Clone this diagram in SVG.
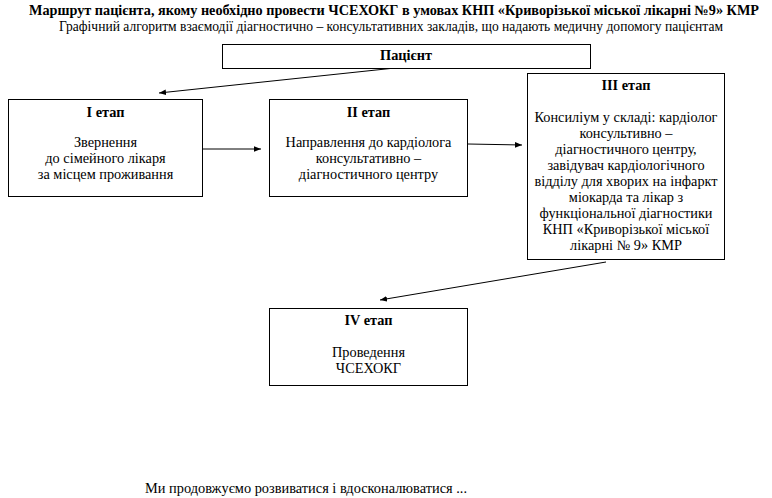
<svg xmlns="http://www.w3.org/2000/svg" width="772" height="498" viewBox="0 0 772 498" font-family="'Liberation Serif', 'DejaVu Serif', serif">
<style>
.box{fill:#fff;stroke:#000;stroke-width:1}
.t{font-family:'Liberation Serif','DejaVu Serif',serif;font-size:14.3px;fill:#000;text-anchor:middle}
.b{font-weight:bold}
.ln{stroke:#000;stroke-width:1;fill:none}
</style>
<defs>
<marker id="ah" viewBox="0 0 10 10" refX="10" refY="5" markerWidth="7" markerHeight="7" markerUnits="userSpaceOnUse" orient="auto">
<path d="M0,1 L10,5 L0,9 z" fill="#000"/>
</marker>
</defs>
<rect width="772" height="498" fill="#fff"/>
<g id="title">
<text class="t b" x="394" y="15" font-size="14.5" textLength="730" lengthAdjust="spacingAndGlyphs">Маршрут пацієнта, якому необхідно провести ЧСЕХОКГ в умовах КНП «Криворізької міської лікарні №9» КМР</text>
<text class="t" x="391" y="31" font-size="12" textLength="664" lengthAdjust="spacingAndGlyphs">Графічний алгоритм взаємодії діагностично – консультативних закладів, що надають медичну допомогу пацієнтам</text>
</g>
<g id="connectors">
<line class="ln" x1="395" y1="68" x2="159" y2="93" marker-end="url(#ah)"/>
<line class="ln" x1="202" y1="149" x2="261" y2="149" marker-end="url(#ah)"/>
<line class="ln" x1="468" y1="144" x2="522" y2="145" marker-end="url(#ah)"/>
<line class="ln" x1="606" y1="262" x2="380" y2="300" marker-end="url(#ah)"/>
</g>
<g id="patient">
<rect class="box" x="222.5" y="44.5" width="368" height="24"/>
<text class="t b" x="406" y="60">Пацієнт</text>
</g>
<g id="stage1">
<rect class="box" x="8.5" y="99.5" width="194" height="97"/>
<text class="t b" x="105.5" y="117">I етап</text>
<text class="t" x="105.5" y="147">Звернення</text>
<text class="t" x="105.5" y="163">до сімейного лікаря</text>
<text class="t" x="105.5" y="179">за місцем проживання</text>
</g>
<g id="stage2">
<rect class="box" x="269.5" y="99.5" width="198" height="97"/>
<text class="t b" x="368.5" y="117">II етап</text>
<text class="t" x="368.5" y="147">Направлення до кардіолога</text>
<text class="t" x="368.5" y="163">консультативно –</text>
<text class="t" x="368.5" y="179">діагностичного центру</text>
</g>
<g id="stage3">
<rect class="box" x="527.5" y="73.5" width="197" height="186"/>
<text class="t b" x="626" y="90">III етап</text>
<text class="t" x="626" y="122">Консиліум у складі: кардіолог</text>
<text class="t" x="626" y="138">консультивно –</text>
<text class="t" x="626" y="154">діагностичного центру,</text>
<text class="t" x="626" y="170">завідувач кардіологічного</text>
<text class="t" x="626" y="186">відділу для хворих на інфаркт</text>
<text class="t" x="626" y="202">міокарда та лікар з</text>
<text class="t" x="626" y="218">функціональної діагностики</text>
<text class="t" x="626" y="234">КНП «Криворізької міської</text>
<text class="t" x="626" y="250">лікарні № 9» КМР</text>
</g>
<g id="stage4">
<rect class="box" x="269.5" y="308.5" width="198" height="77"/>
<text class="t b" x="368.5" y="325">IV етап</text>
<text class="t" x="368.5" y="357">Проведення</text>
<text class="t" x="368.5" y="373">ЧСЕХОКГ</text>
</g>
<g id="footer">
<text class="t" x="306" y="493" textLength="322" lengthAdjust="spacingAndGlyphs">Ми продовжуємо розвиватися і вдосконалюватися ...</text>
</g>
</svg>
